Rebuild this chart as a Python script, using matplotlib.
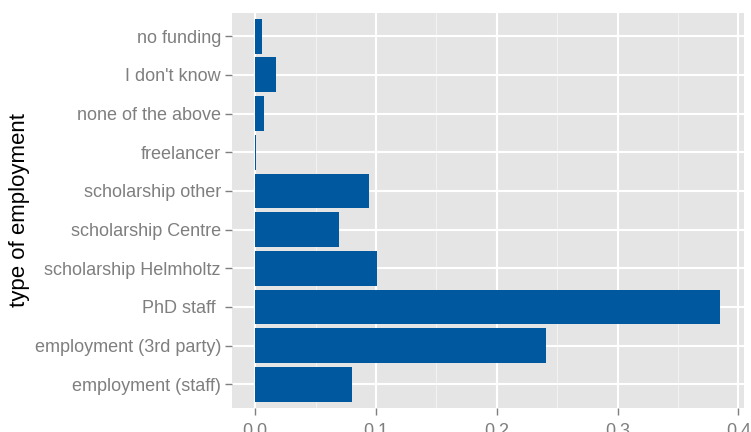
import matplotlib
matplotlib.use("Agg")
import matplotlib.pyplot as plt
from matplotlib.ticker import FixedLocator

categories = ["employment (staff)", "employment (3rd party)", "PhD staff ",
              "scholarship Helmholtz", "scholarship Centre", "scholarship other",
              "freelancer", "none of the above", "I don't know", "no funding"]
values = [0.0803, 0.241, 0.385, 0.101, 0.0696, 0.0944, 0.0008, 0.0075, 0.0174, 0.0058]
xticks = [0.0, 0.1, 0.2, 0.3, 0.4]
xticklabels = ["0.0", "0.1", "0.2", "0.3", "0.4"]

plt.rcParams['font.family'] = ['Liberation Sans', 'DejaVu Sans']

fig = plt.figure(figsize=(7.51, 4.32), dpi=100)
ax = fig.add_axes([232/751, 1-407.5/432, (743.5-232)/751, (407.5-13)/432])
ax.set_facecolor('#E5E5E5')

pos = list(range(1, len(categories)+1))
ax.barh(pos, values, height=0.9, color='#00599E', zorder=3)

ax.set_ylim(0.4, len(categories)+0.6)
ax.set_xlim(-0.0193, 0.4043)
ax.set_yticks(pos)
ax.set_yticklabels(categories)
ax.set_xticks(xticks)
ax.set_xticklabels(xticklabels)
ax.xaxis.set_minor_locator(FixedLocator([0.05, 0.15, 0.25, 0.35]))

ax.grid(which='major', color='white', linewidth=1.5, zorder=1)
ax.grid(which='minor', axis='x', color='#F2F2F2', linewidth=0.8, zorder=1)
ax.set_axisbelow(True)
for s in ax.spines.values():
    s.set_visible(False)

ax.tick_params(axis='both', which='major', colors='#7F7F7F', labelcolor='#7F7F7F',
               labelsize=13, length=5, width=1, pad=3)
ax.tick_params(axis='x', which='major', pad=6.5)
ax.tick_params(axis='x', which='minor', length=0)
ax.set_ylabel("type of employment", fontsize=16, color='black', labelpad=3)

fig.savefig("out.png", dpi=100, facecolor='white')
